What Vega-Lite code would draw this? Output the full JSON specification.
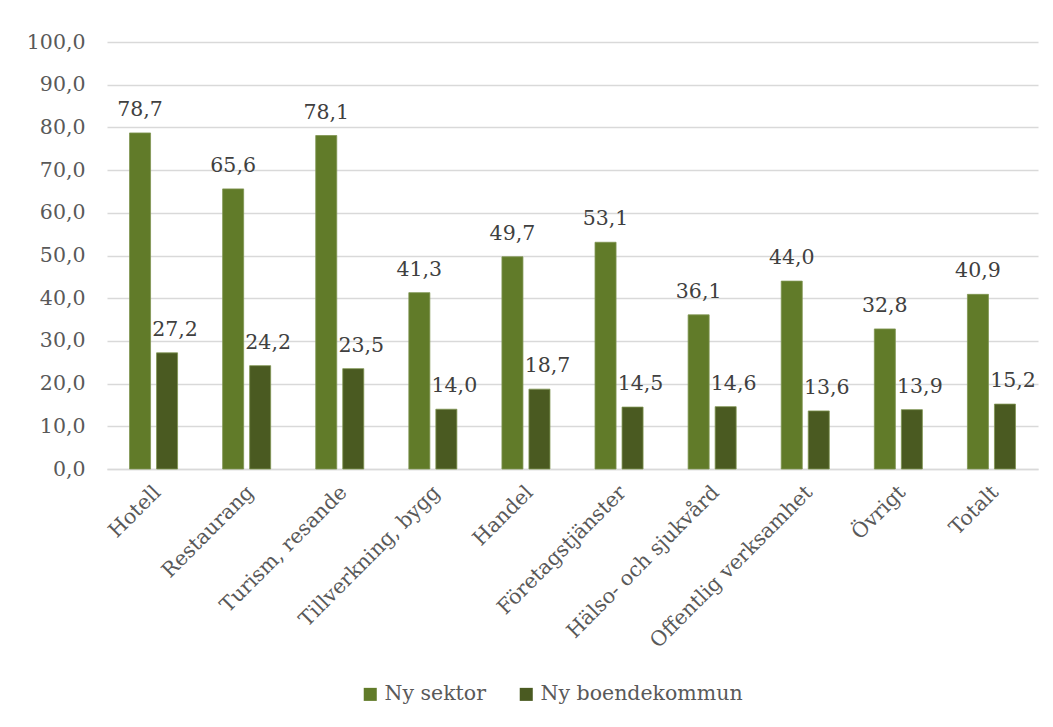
{
  "$schema": "https://vega.github.io/schema/vega-lite/v6.json",
  "width": 931,
  "height": 427,
  "autosize": {"type": "none"},
  "padding": {"left": 107, "top": 42, "right": 15, "bottom": 258},
  "background": "white",
  "config": {
    "view": {"stroke": null},
    "font": "DejaVu Serif",
    "axis": {"labelFont": "DejaVu Serif", "labelColor": "#595959", "labelFontSize": 20.5, "gridColor": "#D9D9D9", "gridWidth": 1.5, "domainColor": "#D9D9D9", "domainWidth": 1.5, "ticks": false, "title": null},
    "legend": {"labelFont": "DejaVu Serif", "labelColor": "#595959", "labelFontSize": 20.5, "labelLimit": 400}
  },
  "data": {
    "values": [
      {"kat": "Hotell", "serie": "Ny sektor", "v": 78.7},
      {"kat": "Hotell", "serie": "Ny boendekommun", "v": 27.2},
      {"kat": "Restaurang", "serie": "Ny sektor", "v": 65.6},
      {"kat": "Restaurang", "serie": "Ny boendekommun", "v": 24.2},
      {"kat": "Turism, resande", "serie": "Ny sektor", "v": 78.1},
      {"kat": "Turism, resande", "serie": "Ny boendekommun", "v": 23.5},
      {"kat": "Tillverkning, bygg", "serie": "Ny sektor", "v": 41.3},
      {"kat": "Tillverkning, bygg", "serie": "Ny boendekommun", "v": 14.0},
      {"kat": "Handel", "serie": "Ny sektor", "v": 49.7},
      {"kat": "Handel", "serie": "Ny boendekommun", "v": 18.7},
      {"kat": "Företagstjänster", "serie": "Ny sektor", "v": 53.1},
      {"kat": "Företagstjänster", "serie": "Ny boendekommun", "v": 14.5},
      {"kat": "Hälso- och sjukvård", "serie": "Ny sektor", "v": 36.1},
      {"kat": "Hälso- och sjukvård", "serie": "Ny boendekommun", "v": 14.6},
      {"kat": "Offentlig verksamhet", "serie": "Ny sektor", "v": 44.0},
      {"kat": "Offentlig verksamhet", "serie": "Ny boendekommun", "v": 13.6},
      {"kat": "Övrigt", "serie": "Ny sektor", "v": 32.8},
      {"kat": "Övrigt", "serie": "Ny boendekommun", "v": 13.9},
      {"kat": "Totalt", "serie": "Ny sektor", "v": 40.9},
      {"kat": "Totalt", "serie": "Ny boendekommun", "v": 15.2}
    ]
  },
  "encoding": {
    "x": {
      "field": "kat", "type": "nominal", "sort": null,
      "scale": {"paddingInner": 0.484, "paddingOuter": 0.242},
      "axis": {"labelAngle": -45, "labelAlign": "right", "labelBaseline": "middle", "labelPadding": 20, "labelOffset": 4, "grid": false, "labelLimit": 300}
    },
    "xOffset": {
      "field": "serie", "type": "nominal",
      "sort": ["Ny sektor", "Ny boendekommun"],
      "scale": {"paddingInner": 0.222, "paddingOuter": 0}
    },
    "y": {
      "field": "v", "type": "quantitative",
      "scale": {"domain": [0, 100], "nice": false},
      "axis": {"values": [0,10,20,30,40,50,60,70,80,90,100], "labelExpr": "replace(format(datum.value, '.1f'), '.', ',')", "domain": false, "grid": true, "labelPadding": 22}
    }
  },
  "layer": [
    {
      "mark": {"type": "bar", "stroke": "#7f9450", "strokeWidth": 0.8},
      "encoding": {
        "color": {
          "field": "serie", "type": "nominal",
          "sort": ["Ny sektor", "Ny boendekommun"],
          "scale": {"domain": ["Ny sektor", "Ny boendekommun"], "range": ["#617B29", "#4A5A21"]},
          "legend": {"title": null, "orient": "none", "direction": "horizontal", "legendX": 253, "legendY": 642, "symbolType": "square", "symbolSize": 170, "symbolStrokeWidth": 0, "columnPadding": 30, "labelOffset": 4}
        }
      }
    },
    {
      "transform": [{"filter": "datum.serie === 'Ny sektor'"}, {"calculate": "replace(format(datum.v, '.1f'), '.', ',')", "as": "lbl"}],
      "mark": {"type": "text", "baseline": "alphabetic", "dy": -17, "fontSize": 20.5, "color": "#404040", "font": "DejaVu Serif"},
      "encoding": {"text": {"field": "lbl", "type": "nominal"}}
    },
    {
      "transform": [{"filter": "datum.serie === 'Ny boendekommun'"}, {"calculate": "replace(format(datum.v, '.1f'), '.', ',')", "as": "lbl"}],
      "mark": {"type": "text", "baseline": "alphabetic", "dy": -17, "dx": 8, "fontSize": 20.5, "color": "#404040", "font": "DejaVu Serif"},
      "encoding": {"text": {"field": "lbl", "type": "nominal"}}
    }
  ]
}
